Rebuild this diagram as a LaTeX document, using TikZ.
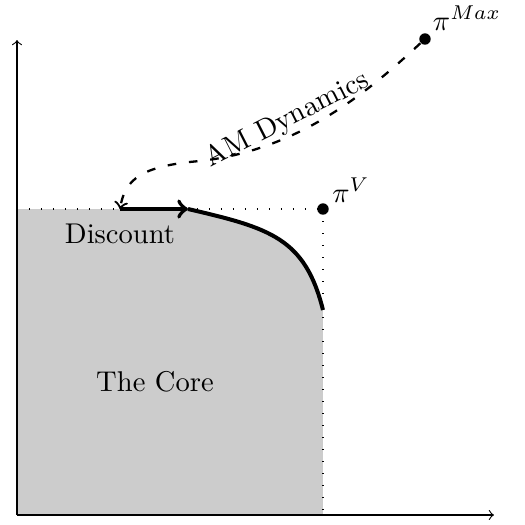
\documentclass[tikz,border=0pt]{standalone}
\usetikzlibrary{arrows}
\begin{document}
\begin{tikzpicture}[x=0.35pt,y=-0.35pt,
  axis/.style={->},
  guide/.style={dash pattern=on 0.4pt off 3.8pt},
  frontier/.style={line width=1.4pt},
  dyn/.style={dash pattern=on 3pt off 4.5pt,thick,->},
  dotpt/.style={circle,fill=black,inner sep=0pt,minimum size=4pt}]
\useasboundingbox (0,0) rectangle (525,525);
% named points
\coordinate (O) at (17,515);
\coordinate (xend) at (494,515);
\coordinate (yend) at (17,40);
\coordinate (ytop) at (17,209);
\coordinate (dstart) at (120,209);
\coordinate (dend) at (188,209);
\coordinate (cend) at (323,310);
\coordinate (xbot) at (323,515);
\node[dotpt] (piV) at (323,209) {};
\node[dotpt] (piM) at (425,39) {};
% core region
\fill[gray!40] (O) -- (ytop) -- (dend) .. controls (270,228) and (305,238) .. (cend) -- (xbot) -- cycle;
% guides
\draw[guide] (ytop) -- (piV.center);
\draw[guide] (piV.center) -- (xbot);
% axes
\draw[axis] (O) -- (xend);
\draw[axis] (O) -- (yend);
% frontier
\draw[frontier] (dend) .. controls (270,228) and (305,238) .. (cend);
\draw[frontier,->] (dstart) -- (dend);
% dynamics
\coordinate (mid) at (200,161);
\draw[dyn] (piM) .. controls (370,90) and (300,150) .. (mid) .. controls (140,166) and (125,180) .. (dstart);
% labels
\node (lV) at (351,190) {$\pi^V$};
\node (lM) at (467,18) {$\pi^{Max}$};
\node (disc) at (120,234) {Discount};
\node (core) at (155,382) {The Core};
\node[rotate=27] (am) at (287,120) {AM Dynamics};
\end{tikzpicture}
\end{document}
